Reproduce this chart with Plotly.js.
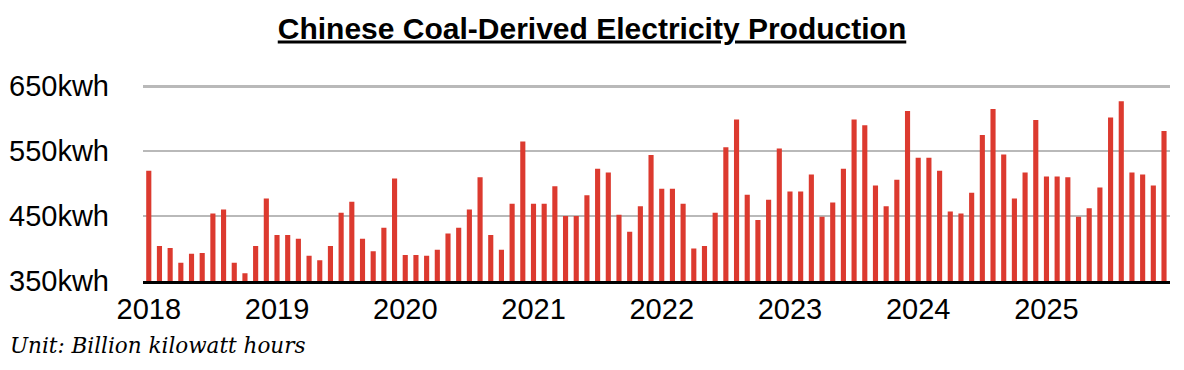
<!DOCTYPE html>
<html>
<head>
<meta charset="utf-8">
<script src="https://cdn.plot.ly/plotly-3.0.1.min.js"></script>
<style>
html, body { margin: 0; padding: 0; background: #ffffff; }
#chart { width: 1184px; height: 370px; }
</style>
</head>
<body>
<div id="chart"></div>
<script>
// Monthly coal-derived electricity production, billion kWh
const years = ['2018', '2019', '2020', '2021', '2022', '2023', '2024', '2025'];
const months = ['01', '02', '03', '04', '05', '06', '07', '08', '09', '10', '11', '12'];
const values2018 = [520, 404, 401, 378, 392, 393, 454, 460, 378, 362, 404, 477];
const values2019 = [421, 421, 415, 389, 382, 404, 455, 472, 415, 396, 432, 508];
const values2020 = [390, 390, 389, 398, 423, 432, 460, 510, 421, 398, 469, 565];
const values2021 = [469, 469, 496, 450, 450, 482, 523, 517, 452, 426, 465, 544];
const values2022 = [492, 492, 469, 400, 404, 455, 556, 599, 483, 444, 475, 554];
const values2023 = [488, 488, 514, 449, 471, 523, 599, 590, 497, 465, 506, 612];
const values2024 = [540, 540, 520, 457, 454, 486, 575, 615, 545, 477, 517, 598];
const values2025 = [511, 511, 510, 449, 462, 494, 602, 627, 517, 514, 497, 581];
const yTickVals = [350, 450, 550, 650];
const yTickText = ['350kwh', '450kwh', '550kwh', '650kwh'];
const titleText = 'Chinese Coal-Derived Electricity Production';
const unitText = 'Unit: Billion kilowatt hours';

const valuesByYear = [values2018, values2019, values2020, values2021,
                      values2022, values2023, values2024, values2025];
const x = [];
const y = [];
years.forEach((yr, i) => {
  months.forEach((m, j) => {
    x.push(yr + '-' + m);
    y.push(valuesByYear[i][j]);
  });
});

const trace = {
  type: 'bar',
  x: x,
  y: y,
  marker: { color: '#dc3a2f', line: { width: 0 } },
  hoverinfo: 'x+y'
};

const layout = {
  width: 1184,
  height: 370,
  margin: { l: 142.5, r: 14, t: 85.3, b: 89.3, pad: 0 },
  paper_bgcolor: '#ffffff',
  plot_bgcolor: '#ffffff',
  showlegend: false,
  bargap: 0.52,
  font: { family: 'Liberation Sans, Arial, sans-serif', color: '#000000', size: 29 },
  title: {
    text: titleText,
    font: { family: 'Liberation Sans, Arial, sans-serif', size: 30, weight: 'bold', color: '#000000', lineposition: 'under' },
    xref: 'container', x: 0.5, xanchor: 'center',
    yref: 'container', y: 1 - 28 / 370, yanchor: 'middle'
  },
  xaxis: {
    type: 'category',
    range: [-0.54, 95.56],
    tickvals: years.map(yr => yr + '-01'),
    ticktext: years,
    ticks: '',
    showgrid: false,
    showline: true,
    linecolor: '#000000',
    linewidth: 3,
    zeroline: false,
    tickfont: { size: 29, color: '#000000' },
    fixedrange: true
  },
  yaxis: {
    range: [350, 652],
    tickvals: yTickVals,
    ticktext: yTickText,
    ticks: '',
    showgrid: true,
    gridcolor: '#b9b9b9',
    gridwidth: 2.5,
    zeroline: false,
    showline: false,
    ticklabelstandoff: 33,
    tickfont: { size: 29, color: '#000000' },
    fixedrange: true
  },
  annotations: [{
    text: unitText,
    xref: 'paper', yref: 'paper',
    x: -0.131, y: -0.328,
    xanchor: 'left', yanchor: 'middle',
    showarrow: false,
    font: { family: 'DejaVu Serif, Georgia, serif', size: 21.5, style: 'italic', color: '#000000' }
  }]
};

Plotly.newPlot('chart', [trace], layout, { displayModeBar: false, staticPlot: true });
</script>
</body>
</html>
